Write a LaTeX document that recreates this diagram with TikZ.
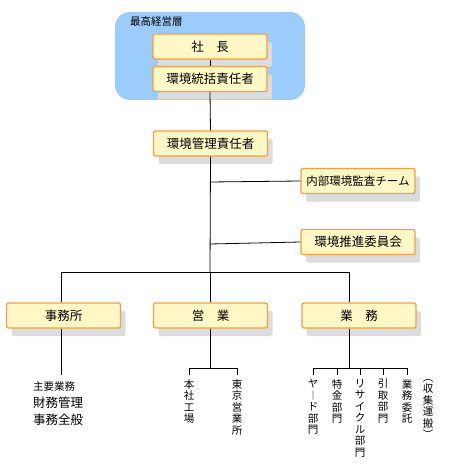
\documentclass[tikz,border=0pt]{standalone}
\usepackage{fontspec}
\setmainfont{Noto Sans CJK JP}
\usetikzlibrary{shadows}
\definecolor{toplayer}{HTML}{9CCCFA}
\definecolor{boxfill}{HTML}{FFF8C6}
\definecolor{boxline}{HTML}{F0A04A}
\definecolor{boxshadow}{HTML}{DCDCDC}

\begin{document}
\begin{tikzpicture}[x=1pt, y=-1pt,
    orgbox/.style={draw=boxline, line width=1.3pt, fill=boxfill, rounded corners=2pt,
      minimum width=114pt, minimum height=25pt, inner sep=0pt,
      font=\fontsize{12.5}{14}\selectfont,
      drop shadow={shadow xshift=5pt, shadow yshift=-8pt, fill=boxshadow, opacity=1, rounded corners=0pt}},
    tate/.style={anchor=north, align=center, inner sep=0pt, font=\fontsize{10.5}{11.5}\selectfont},
    line/.style={line width=0.8pt}]
  \useasboundingbox (0,0) rectangle (462,470);

  % Top management area
  \fill[toplayer, rounded corners=15pt] (115,12) rectangle (305,100);
  \node[anchor=west, inner sep=0pt, font=\fontsize{10.5}{12}\selectfont] (toplabel) at (130,22) {最高経営層};

  % Boxes
  \node[orgbox] (shacho) at (210,46.5) {社\quad 長};
  \node[orgbox] (tokatsu) at (210,79) {環境統括責任者};
  \node[orgbox] (kanri) at (210.5,143.5) {環境管理責任者};
  \node[orgbox, font=\fontsize{11.5}{13}\selectfont] (kansa) at (358,181) {内部環境監査チーム};
  \node[orgbox] (suishin) at (358,242) {環境推進委員会};
  \node[orgbox] (jimu) at (63.5,315.5) {事務所};
  \node[orgbox] (eigyo) at (210.5,315.5) {営\quad 業};
  \node[orgbox] (gyomu) at (359,315.5) {業\quad 務};

  % Bus line
  \coordinate (busL) at (61,272);
  \coordinate (busM) at (210,272);
  \coordinate (busR) at (349,272);

  % Draw the trunk and branches
  \draw[line] (shacho.south) -- (tokatsu.north);
  \draw[line] (tokatsu.south) -- (kanri.north);
  \draw[line] (kanri.south) -- (busM);
  \draw[line] (210,182) -- (kansa.west);
  \draw[line] (210,244) -- (suishin.west);
  \draw[line] (busL) -- (busR);
  \draw[line] (busL) -- (busL |- jimu.north);
  \draw[line] (busM) -- (busM |- eigyo.north);
  \draw[line] (busR) -- (busR |- gyomu.north);

  % Office
  \coordinate (jimuE) at (61,375);
  \draw[line] (jimuE |- jimu.south) -- (jimuE);
  \node[anchor=west, inner sep=0pt, font=\fontsize{10.5}{12}\selectfont] (shuyo) at (33,387) {主要業務};
  \node[anchor=west, inner sep=0pt, font=\fontsize{12.5}{14}\selectfont] (zaimu) at (33,403) {財務管理};
  \node[anchor=west, inner sep=0pt, font=\fontsize{12.5}{14}\selectfont] (jimuzen) at (33,420) {事務全般};

  % Sales
  \coordinate (eigyoB) at (210,368);
  \draw[line] (eigyoB |- eigyo.south) -- (eigyoB);
  \draw[line] (189,375) -- (189,368) -- (237,368) -- (237,375);
  \node[tate] (honsha) at (189,379) {本\\社\\工\\場};
  \node[tate] (tokyo) at (237,379) {東\\京\\営\\業\\所};

  % Operations
  \coordinate (gyomuB) at (349,368);
  \draw[line] (gyomuB |- gyomu.south) -- (gyomuB);
  \draw[line] (313,368) -- (407,368);
  \foreach \x in {313,337,360,383,407}
    \draw[line] (\x,368) -- (\x,375);
  \node[tate] (yard) at (313,379) {ヤ\\︱\\ド\\部\\門};
  \node[tate] (tokkin) at (337,379) {特\\金\\部\\門};
  \node[tate] (recycle) at (360,379) {リ\\サ\\イ\\ク\\ル\\部\\門};
  \node[tate] (hikitori) at (383,379) {引\\取\\部\\門};
  \node[tate] (itaku) at (407,379) {業\\務\\委\\託};
  \node[tate] (shushu) at (428,379) {︵\\収\\集\\運\\搬\\︶};
\end{tikzpicture}
\end{document}
